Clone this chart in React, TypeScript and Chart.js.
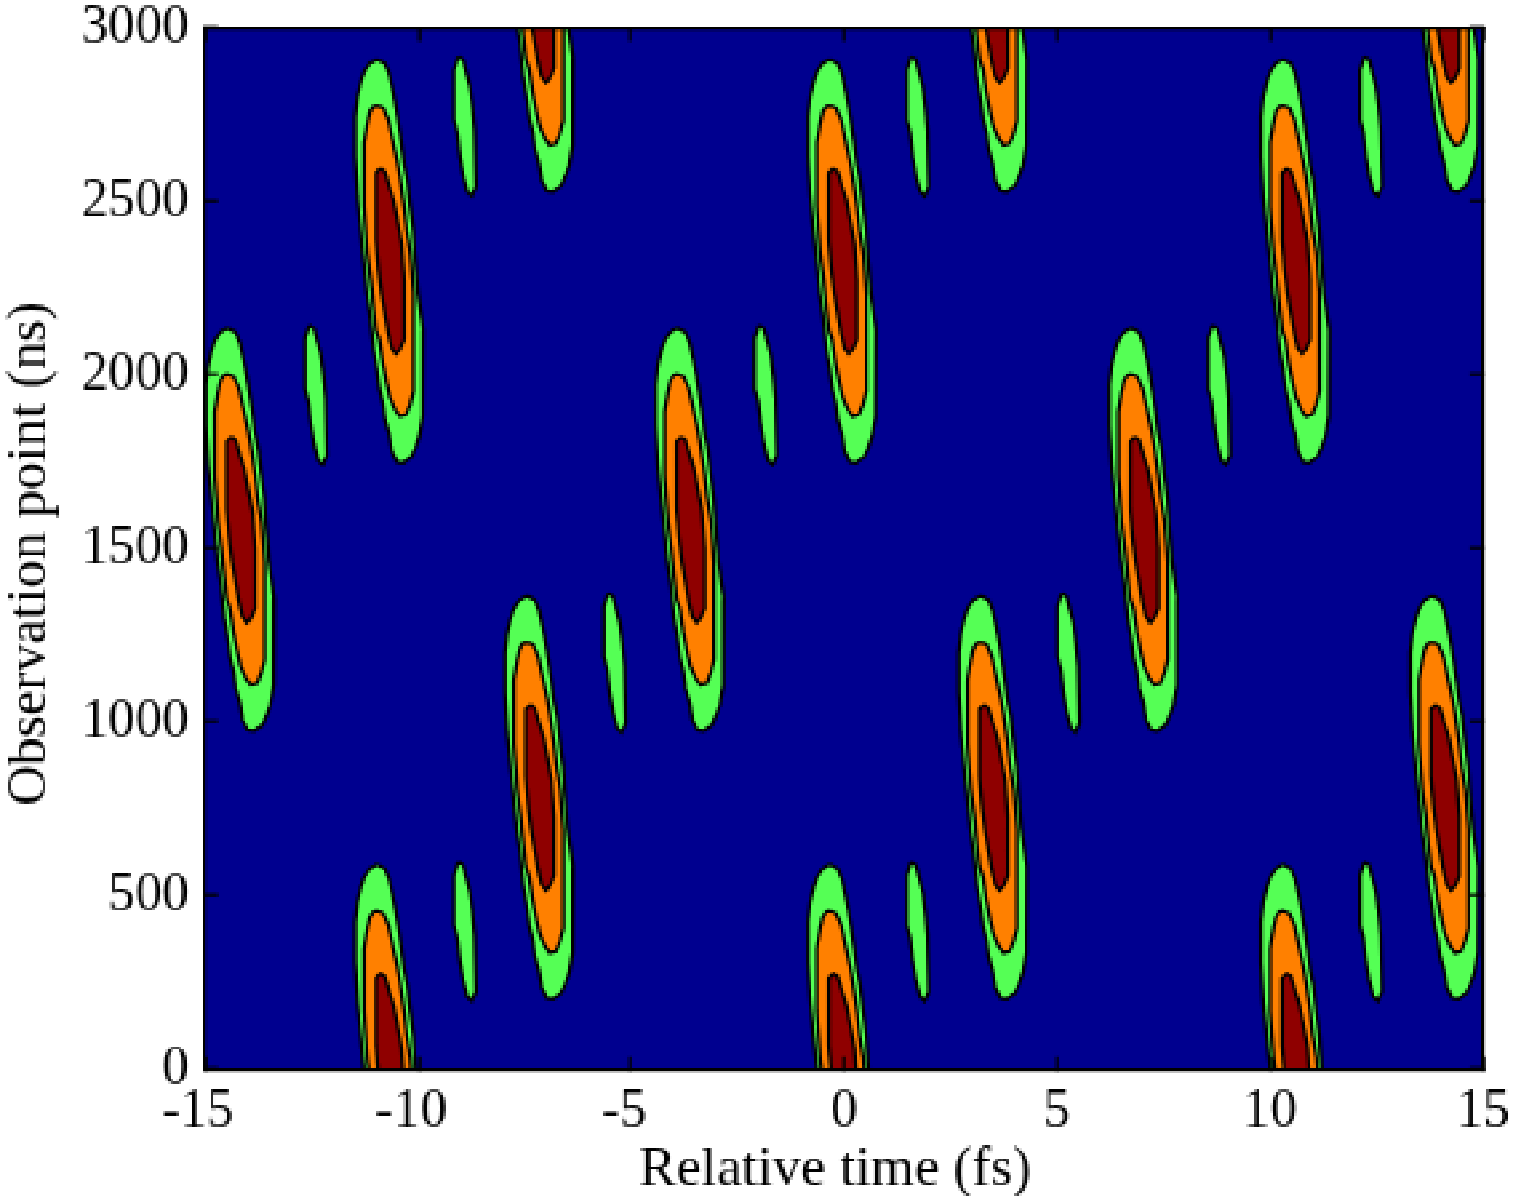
import React, { useEffect, useRef } from "react";
import { Chart, registerables } from "chart.js";

Chart.register(...registerables);

// Axis values
const xTickValues = [-15, -10, -5, 0, 5, 10, 15];
const yTickValues = [0, 500, 1000, 1500, 2000, 2500, 3000];
const xTitle = "Relative time (fs)";
const yTitle = "Observation point (ns)";

// Where each repeated peak sits (fs, ns)
const peakX = [-14.16, -10.66, -7.14, -3.6, -0.03, 3.51, 7.05, 10.61, 14.11, -10.66, -0.03, 10.61, -7.14, 3.51, 14.11];
const peakY = [1558, 2332, 786, 1558, 2332, 786, 1558, 2332, 786, 12, 12, 12, 3113, 3113, 3113];

// Contour outlines, relative to a peak (fs, ns)
const lowX = [-0.31, -0.12, -0.02, 0.08, 0.14, 0.2, 0.27, 0.33, 0.41, 0.47, 0.55, 0.59, 0.66, 0.78, 0.77, 0.69, 0.61, 0.51, 0.31, 0.16, 0.04, -0.02, -0.12, -0.17, -0.25, -0.31, -0.39, -0.47, -0.55, -0.61, -0.69, -0.77, -0.82, -0.82, -0.77, -0.69, -0.61, -0.48, -0.31];
const lowY = [578, 566, 537, 480, 441, 394, 336, 278, 230, 163, 86, 10, -96, -202, -451, -509, -537, -566, -584, -581, -552, -504, -461, -413, -374, -317, -259, -163, -96, -19, 77, 182, 298, 413, 470, 513, 542, 566, 578];

const midX = [-0.29, -0.16, -0.04, 0.05, 0.17, 0.23, 0.33, 0.39, 0.48, 0.55, 0.55, 0.47, 0.38, 0.23, 0.12, 0, -0.08, -0.17, -0.25, -0.33, -0.39, -0.45, -0.53, -0.61, -0.61, -0.53, -0.47, -0.39, -0.29];
const midY = [444, 437, 403, 350, 283, 240, 154, 86, 19, -96, -379, -418, -446, -451, -432, -398, -355, -298, -230, -202, -134, -58, 19, 154, 336, 394, 427, 442, 444];

const highX = [-0.22, -0.12, -0.02, 0.08, 0.17, 0.27, 0.33, 0.33, 0.23, 0.14, 0.04, -0.04, -0.12, -0.2, -0.27, -0.33, -0.33, -0.22];
const highY = [264, 254, 211, 173, 115, 48, -58, -230, -259, -271, -254, -211, -154, -96, -29, 58, 250, 264];

const sideX = [1.6, 1.72, 1.8, 1.88, 1.94, 1.99, 2.02, 1.92, 1.81, 1.72, 1.64, 1.58, 1.5, 1.5, 1.56, 1.6];
const sideY = [585, 576, 537, 499, 441, 374, 211, 184, 197, 240, 298, 365, 403, 547, 571, 585];

const levels = [
  { xs: sideX, ys: sideY, color: "#55ff55", order: 3 },
  { xs: lowX, ys: lowY, color: "#55ff55", order: 3 },
  { xs: midX, ys: midY, color: "#ff8000", order: 2 },
  { xs: highX, ys: highY, color: "#8f0000", order: 1 },
];

const FONT = "'Liberation Serif', serif";

export default function App() {
  const ref = useRef<HTMLCanvasElement | null>(null);

  useEffect(() => {
    const canvas = ref.current;
    if (!canvas) return;

    const datasets: any[] = [];
    peakX.forEach((px, i) => {
      levels.forEach((lv) => {
        datasets.push({
          data: lv.xs.map((dx, k) => ({ x: px + dx, y: peakY[i] + lv.ys[k] })),
          showLine: true,
          fill: "shape",
          backgroundColor: lv.color,
          borderColor: "#000000",
          borderWidth: 3.4,
          pointRadius: 0,
          tension: 0,
          order: lv.order,
          clip: 0,
          xAxisID: "x",
          yAxisID: "y",
        });
      });
    });

    // Fixed axis boxes, so the plot area lands where the reference has it.
    const fixSize = (w: number | null, h: number | null, titleDx = 0, titleDy = 0, negDx = 0) => (scale: any) => {
      if (w !== null) scale.width = w;
      if (h !== null) scale.height = h;
      scale.paddingLeft = 0;
      scale.paddingRight = 0;
      scale.paddingTop = 0;
      scale.paddingBottom = 0;
      if ((titleDx || titleDy) && !scale.__titleShifted) {
        scale.__titleShifted = true;
        const draw = scale.drawTitle.bind(scale);
        scale.drawTitle = () => {
          const ctx = scale.ctx;
          ctx.save();
          ctx.translate(titleDx, titleDy);
          draw();
          ctx.restore();
        };
      }
      if (negDx && !scale.__labelsShifted) {
        scale.__labelsShifted = true;
        const compute = scale._computeLabelItems.bind(scale);
        scale._computeLabelItems = (area: any) => {
          const items = compute(area);
          items.forEach((it: any) => {
            if (String(it.label).startsWith("-")) it.options.translation[0] += negDx;
          });
          return items;
        };
      }
    };
    const setTicks = (vals: number[]) => (scale: any) => {
      scale.ticks = vals.map((value) => ({ value }));
    };
    const grid = { drawOnChartArea: false, drawTicks: true, tickLength: -13, tickWidth: 3, tickColor: "#000000", z: 1 };
    const border = { display: true, color: "#000000", width: 3.2, z: 1 };

    const background = {
      id: "plotBackground",
      beforeDatasetsDraw(chart: any) {
        const { ctx, chartArea: a } = chart;
        ctx.save();
        ctx.fillStyle = "#00008f";
        ctx.fillRect(a.left, a.top, a.right - a.left, a.bottom - a.top);
        ctx.restore();
      },
    };

    const chart = new Chart(canvas, {
      type: "scatter",
      data: { datasets },
      plugins: [background],
      options: {
        animation: false,
        responsive: false,
        devicePixelRatio: 0.375,
        layout: { padding: 0 },
        plugins: { legend: { display: false }, tooltip: { enabled: false } },
        scales: {
          x: {
            type: "linear",
            position: "bottom",
            min: -15,
            max: 15,
            afterBuildTicks: setTicks(xTickValues),
            afterFit: fixSize(null, 128, -9, 0, -7),
            grid,
            border,
            ticks: {
              color: "#000000",
              padding: 23,
              maxRotation: 0,
              autoSkip: false,
              font: { family: FONT, size: 54 },
              callback: (v: any) => String(v),
            },
            title: {
              display: true,
              text: xTitle,
              color: "#000000",
              font: { family: FONT, size: 56, lineHeight: 1 },
              padding: 0,
            },
          },
          y: {
            type: "linear",
            position: "left",
            min: 0,
            max: 3000,
            afterBuildTicks: setTicks(yTickValues),
            afterFit: fixSize(205, null, 2, 5),
            grid,
            border,
            ticks: {
              color: "#000000",
              padding: 29,
              autoSkip: false,
              font: { family: FONT, size: 54 },
              callback: (v: any) => String(v),
            },
            title: {
              display: true,
              text: yTitle,
              color: "#000000",
              font: { family: FONT, size: 56, lineHeight: 1 },
              padding: 0,
            },
          },
          x2: {
            type: "linear",
            position: "top",
            min: -15,
            max: 15,
            afterBuildTicks: setTicks(xTickValues),
            afterFit: fixSize(null, 28),
            grid,
            border,
            ticks: { display: false },
          },
          y2: {
            type: "linear",
            position: "right",
            min: 0,
            max: 3000,
            afterBuildTicks: setTicks(yTickValues),
            afterFit: fixSize(31, null),
            grid,
            border,
            ticks: { display: false },
          },
        },
      },
    } as any);

    return () => chart.destroy();
  }, []);

  return (
    <div style={{ position: "absolute", left: 0, top: 0, width: 1513, height: 1196, background: "#ffffff" }}>
      <canvas ref={ref} width={1513} height={1196} style={{ display: "block", imageRendering: "pixelated" }} />
    </div>
  );
}
